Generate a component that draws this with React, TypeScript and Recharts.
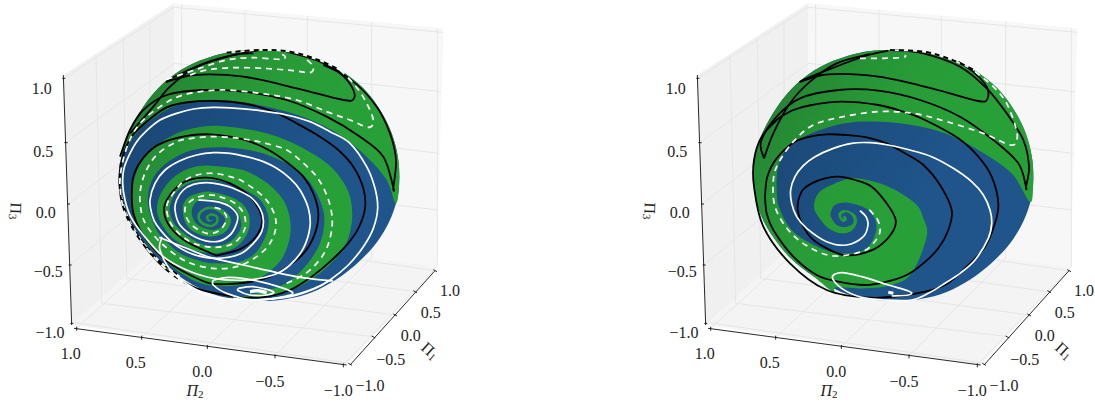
import { ScatterChart, Scatter, XAxis, YAxis } from "recharts"

type Pt = [number, number]

// All values below are picture units: 3 units = 1 screen pixel inside a panel.
const PANEL_W = 465
const PANEL_H = 402

const leftPane: Pt[] = [[190, 225], [522, 10], [525, 695], [215, 975]]
const backPane: Pt[] = [[522, 10], [1330, 85], [1310, 800], [525, 695]]
const floorPane: Pt[] = [[215, 975], [525, 695], [1310, 800], [1040, 1095]]

const gridLines: Pt[][] = [
  // left wall verticals
  [[288, 165], [305, 910]], [[370, 115], [380, 835]], [[450, 65], [450, 765]],
  [[545, 12], [545, 700]],
  // back wall verticals
  [[735, 30], [735, 725]], [[922, 48], [922, 748]], [[1115, 65], [1115, 773]], [[1312, 85], [1312, 800]],
  // wall horizontals
  [[192, 235], [522, 22], [1328, 97]],
  [[197, 428], [523, 190], [1322, 275]],
  [[205, 612], [524, 365], [1318, 460]],
  [[210, 795], [525, 535], [1314, 630]],
  // floor
  [[230, 985], [545, 700]], [[425, 1012], [735, 725]], [[622, 1040], [922, 748]],
  [[825, 1068], [1115, 773]], [[1030, 1095], [1312, 800]],
  [[1050, 1090], [225, 968]], [[1120, 1010], [305, 910]], [[1185, 945], [380, 835]],
  [[1245, 875], [450, 765]], [[1305, 812], [525, 700]],
]

const axisLines: Pt[][] = [
  [[190, 225], [215, 975]],
  [[222, 985], [1040, 1095]],
  [[1050, 1095], [1305, 812]],
]
const axisTicks: Pt[][] = [
  [[187, 235], [196, 235]], [[193, 428], [203, 428]], [[201, 612], [210, 612]],
  [[206, 795], [215, 795]], [[211, 970], [220, 970]],
  [[230, 980], [230, 992]], [[425, 1007], [425, 1019]], [[622, 1035], [622, 1047]],
  [[825, 1063], [825, 1075]], [[1030, 1090], [1030, 1102]],
  [[1045, 1090], [1056, 1096]], [[1115, 1008], [1126, 1014]], [[1180, 942], [1191, 948]],
  [[1240, 872], [1251, 878]], [[1300, 809], [1311, 815]],
]

const tickLabels: [number, number, string][] = [
  [125, 265, "1.0"], [130, 455, "0.5"], [137, 637, "0.0"], [145, 815, "\u22120.5"], [150, 997, "\u22121.0"],
  [212, 1060, "1.0"], [407, 1088, "0.5"], [607, 1115, "0.0"], [810, 1145, "\u22120.5"], [1015, 1170, "\u22121.0"],
  [1350, 872, "1.0"], [1292, 938, "0.5"], [1232, 1007, "0.0"], [1172, 1078, "\u22120.5"], [1110, 1157, "\u22121.0"],
]
const axisTitles: [number, number, string, string, number, boolean][] = [
  [585, 1172, "\u03a0", "2", 0, true],
  [48, 633, "\u03a0", "3", 92, false],
  [1290, 1052, "\u03a0", "1", 42, false],
]

const sphereOutline: Pt[] = [
  [780, 150], [870, 155], [950, 178], [1020, 210], [1090, 265], [1140, 330], [1175, 400], [1195, 480],
  [1197, 560], [1185, 620], [1160, 680], [1120, 740], [1060, 800], [990, 850], [920, 883], [840, 900],
  [780, 903], [700, 897], [620, 875], [540, 830], [470, 775], [410, 700], [375, 630], [360, 560],
  [362, 480], [385, 400], [430, 320], [490, 250], [560, 200], [640, 168], [710, 153],
]

// ---- left sphere ----
const capL: Pt[] = [
  [368, 470], [385, 400], [430, 320], [490, 250], [560, 200], [640, 168], [710, 153], [780, 150],
  [870, 155], [950, 178], [1020, 210], [1090, 265], [1140, 330], [1175, 400], [1195, 480], [1197, 560],
  [1187, 610], [1160, 540], [1100, 470], [1020, 405], [920, 355], [820, 325], [720, 305], [620, 300],
  [520, 320], [440, 370], [395, 420],
]
const bandOuterL: Pt[] = [
  [720, 893], [800, 888], [880, 868], [965, 815], [1030, 745], [1055, 670], [1050, 590], [1015, 525],
  [960, 475], [870, 425], [780, 395], [660, 378], [580, 385], [510, 410], [440, 465], [405, 530],
  [395, 610], [430, 710], [470, 760], [530, 810], [590, 845], [650, 858], [720, 855], [780, 835],
  [835, 790], [862, 740], [872, 680], [860, 620], [830, 575], [780, 535], [720, 508], [630, 497],
  [575, 503], [530, 525], [495, 560], [475, 600], [472, 640], [490, 680], [525, 720], [580, 750],
  [640, 760], [695, 748], [730, 720], [748, 680], [745, 640], [725, 610], [690, 590], [630, 575],
  [585, 583], [557, 600], [548, 630], [560, 675], [590, 700], [630, 710], [670, 700], [690, 675],
  [690, 650], [665, 627], [625, 620], [600, 632], [592, 652], [603, 672], [630, 682], [652, 672],
  [655, 650], [635, 640], [618, 650], [625, 665], [640, 660],
]
const bandInnerL: Pt[] = [
  [800, 872], [860, 848], [915, 800], [960, 730], [973, 650], [950, 580], [915, 530], [860, 490],
  [770, 455], [660, 442], [570, 452], [505, 485], [465, 525], [447, 570], [445, 620], [470, 690],
  [500, 725], [540, 760], [590, 780], [640, 790], [720, 785], [770, 755], [800, 700], [805, 650],
  [785, 605], [745, 575], [680, 548], [625, 540], [570, 548], [530, 575], [512, 610], [510, 640],
  [530, 680], [590, 725], [640, 738], [690, 725], [720, 690], [722, 660], [705, 625], [670, 605],
  [625, 597], [590, 605], [575, 635], [590, 672], [635, 690], [665, 680], [675, 655], [650, 632],
  [625, 628], [607, 637], [600, 652], [610, 667], [632, 674], [646, 667], [648, 652], [635, 647],
  [625, 652], [630, 660],
]

const blackL: Pt[][] = [
  [[970, 195], [1020, 220], [1055, 260], [1062, 295], [1030, 300], [890, 265], [730, 230], [580, 225], [500, 245], [590, 200], [700, 165], [780, 150]],
  [[390, 400], [460, 320], [510, 260], [590, 200], [700, 165], [760, 160]],
  [[360, 470], [390, 390], [430, 330], [500, 285], [610, 270], [730, 275], [860, 300], [980, 350], [1080, 410], [1150, 470], [1180, 562], [1180, 562], [1188, 480], [1170, 400], [1130, 320], [1060, 245], [960, 185], [860, 155]],
  [[720, 893], [800, 890], [870, 870], [935, 830], [990, 785], [1040, 735], [1075, 685], [1095, 625], [1090, 565], [1060, 500], [1015, 450], [960, 410], [890, 370], [820, 335], [740, 312], [650, 303], [570, 306], [500, 322], [440, 365], [395, 410], [368, 470], [358, 545], [372, 630], [420, 720], [500, 810], [590, 865], [720, 893]],
  [[395, 590], [400, 530], [425, 480], [465, 440], [515, 418], [570, 406], [630, 403], [690, 410], [750, 425], [810, 452], [865, 490], [910, 530], [940, 580], [955, 640], [945, 700], [915, 755], [870, 795], [810, 830], [750, 846], [690, 852], [630, 850], [570, 825], [510, 790], [460, 745], [420, 690], [400, 640], [395, 590]],
  [[650, 767], [725, 745], [775, 700], [785, 650], [750, 590], [690, 550], [620, 533], [555, 545], [510, 585], [492, 630], [510, 680], [560, 725], [650, 767]],
]
const dashedL: Pt[][] = [
  [[1020, 210], [1060, 250], [1095, 300], [1120, 360], [1105, 382], [1050, 360], [980, 335], [890, 300], [780, 280], [660, 270], [550, 285], [480, 320], [420, 370], [385, 430], [365, 500], [360, 560], [375, 640], [420, 720], [500, 810], [580, 870]],
  [[860, 850], [910, 825], [950, 790], [980, 745], [995, 690], [995, 640], [980, 585], [950, 530], [905, 485], [860, 450], [805, 432], [750, 420], [690, 412], [630, 410], [575, 415], [530, 425], [470, 465], [435, 520], [420, 580], [425, 640], [445, 685], [490, 735], [560, 785], [640, 805], [710, 800], [770, 770], [810, 730], [828, 680], [820, 635], [790, 590], [730, 545], [690, 530], [640, 520], [590, 525], [550, 545], [520, 580], [500, 620], [515, 675], [570, 725], [640, 742], [700, 730], [733, 690], [733, 645], [705, 610], [665, 592], [630, 585], [585, 595], [555, 625], [570, 670], [620, 700], [660, 690], [680, 655], [665, 630], [640, 622]],
  [[570, 225], [620, 210], [700, 203], [790, 205], [880, 212], [930, 218], [940, 200], [920, 178]],
  [[500, 238], [590, 208], [680, 180], [760, 173], [840, 178], [856, 170], [840, 160]],
]
const whiteL: Pt[][] = [
  [[700, 895], [760, 900], [870, 890], [940, 868], [990, 840], [1045, 795], [1090, 740], [1120, 685], [1133, 625], [1125, 565], [1100, 500], [1050, 430], [990, 395], [930, 365], [860, 345], [780, 332], [710, 325], [640, 322], [580, 327], [530, 340], [480, 360], [440, 392], [410, 425], [390, 460], [372, 505], [368, 550], [375, 600], [392, 650], [430, 705], [490, 770], [560, 810], [640, 835], [740, 840], [820, 825], [870, 795], [910, 745], [930, 680], [925, 625], [900, 570], [870, 535], [830, 505], [790, 485], [740, 470], [690, 460], [640, 458], [590, 465], [540, 482], [495, 510], [465, 550], [450, 600], [455, 640], [470, 675], [520, 730], [580, 763], [650, 775], [720, 762], [760, 730], [785, 695], [790, 660], [780, 625], [750, 590], [700, 565], [660, 553], [620, 548], [580, 553], [550, 570], [530, 600], [525, 630], [540, 675], [590, 713], [650, 725], [690, 705], [710, 670], [712, 645], [690, 620], [660, 607], [625, 602], [595, 600]],
  [[485, 715], [485, 715], [560, 745], [630, 772], [730, 795], [890, 830], [988, 842], [988, 842], [950, 862], [870, 888], [760, 900], [670, 895], [610, 880], [520, 820], [480, 750], [485, 715], [485, 715]],
  [[640, 840], [690, 832], [780, 845], [875, 875], [850, 890], [760, 900], [680, 880], [640, 855], [640, 840]],
  [[715, 865], [760, 860], [820, 875], [800, 885], [750, 885], [715, 872], [715, 865]],
]
const blobL: Pt[] = [[750, 875], [775, 872], [800, 878]]
const limbDashL: Pt[] = [[362, 490], [360, 560], [375, 630], [410, 700], [470, 775], [540, 830]]
const limbTopL: Pt[] = [[680, 158], [780, 150], [870, 155], [950, 178], [1020, 210]]

// ---- right sphere ----
const capR: Pt[] = [
  [1199, 605], [1209, 560], [1207, 480], [1187, 400], [1152, 330], [1102, 265], [1032, 210], [962, 178],
  [882, 155], [792, 150], [722, 153], [652, 168], [572, 200], [502, 250], [442, 320], [397, 400],
  [374, 480], [372, 560], [387, 630], [422, 700], [482, 775], [552, 830], [612, 878],
  [618, 862], [705, 865], [785, 855], [845, 820], [890, 710], [880, 655], [855, 610], [775, 560], [675, 535],
  [605, 555], [565, 580], [552, 620], [565, 650], [590, 680], [615, 695], [640, 700], [665, 692], [680, 670],
  [678, 648], [662, 635], [640, 630], [626, 640], [628, 655], [640, 666], [650, 660], [648, 650], [640, 648],
  [640, 656], [634, 650], [636, 642], [650, 637], [668, 650], [668, 672], [645, 681], [620, 675], [605, 655],
  [602, 640], [615, 615], [655, 608], [715, 630], [740, 680], [715, 740], [660, 760], [585, 750],
  [495, 700], [450, 630], [440, 570], [445, 500], [475, 440], [545, 400], [645, 370], [745, 365],
  [845, 375], [945, 400], [1045, 450], [1145, 520],
]
const blackR: Pt[][] = [
  [[985, 185], [1035, 220], [1070, 260], [1073, 295], [1045, 303], [905, 265], [745, 230], [595, 223], [510, 245], [605, 205], [715, 165], [775, 152]],
  [[402, 475], [430, 400], [480, 310], [540, 245], [620, 190], [720, 162]],
  [[402, 475], [393, 425], [440, 350], [510, 295], [625, 270], [745, 272], [870, 300], [990, 350], [1090, 420], [1165, 490], [1188, 560], [1188, 560], [1197, 500], [1180, 420], [1130, 340], [1070, 265], [990, 200], [880, 160], [790, 150]],
  [[445, 355], [490, 330], [545, 315], [635, 305], [745, 315], [820, 335], [885, 360], [985, 415], [1045, 470], [1085, 530], [1105, 610], [1095, 670], [1065, 740], [1010, 800], [945, 855], [850, 882], [720, 893], [590, 870], [480, 790], [400, 680], [372, 560], [372, 480], [395, 410], [445, 355]],
  [[405, 590], [412, 530], [440, 475], [490, 428], [540, 410], [590, 403], [650, 405], [710, 412], [770, 430], [825, 460], [880, 495], [930, 555], [965, 630], [955, 690], [925, 745], [880, 790], [830, 825], [770, 845], [705, 855], [625, 845], [560, 825], [490, 770], [430, 690], [410, 640], [405, 590]],
  [[505, 600], [518, 570], [545, 550], [585, 535], [625, 530], [675, 540], [725, 560], [770, 610], [797, 660], [785, 700], [745, 740], [690, 762], [640, 765], [590, 745], [545, 715], [515, 670], [503, 630], [505, 600]],
]
const dashedR: Pt[][] = [
  [[1035, 215], [1090, 260], [1130, 310], [1158, 385], [1160, 420], [1140, 435], [1060, 400], [950, 365], [850, 340], [745, 335], [640, 350], [550, 375], [490, 425], [445, 490], [430, 540], [435, 620], [475, 690], [535, 740], [610, 768], [695, 755], [730, 730], [750, 695], [743, 660], [717, 628]],
  [[690, 175], [760, 175], [820, 172], [826, 165]],
]
const whiteR: Pt[][] = [
  [[690, 632], [708, 650], [714, 675], [700, 710], [650, 735], [590, 725], [530, 685], [500, 650], [485, 610], [482, 570], [495, 530], [520, 497], [555, 470], [610, 445], [665, 430], [720, 428], [775, 435], [840, 450], [905, 470], [970, 505], [1025, 545], [1060, 585], [1080, 630], [1085, 670], [1075, 715], [1035, 780], [990, 820], [945, 850], [895, 880], [845, 900], [765, 900], [695, 892], [635, 865], [607, 832], [635, 818], [695, 830], [775, 855], [840, 875], [835, 885], [785, 888]],
]
const blobR: Pt[] = [[775, 877], [790, 880]]
const limbTopR: Pt[] = [[780, 150], [882, 155], [962, 178], [1032, 210]]

const shift = (pts: Pt[], dx: number): Pt[] => pts.map(([x, y]) => [x + dx, y])

// catmull-rom through the read points, so the curves stay round
const curvePath = (pts: { x: number; y: number }[], closed: boolean, smooth: boolean) => {
  if (!pts || pts.length === 0) return ""
  let d = `M${pts[0].x},${pts[0].y}`
  const n = pts.length
  const at = (i: number) => (closed ? pts[(i + n) % n] : pts[Math.max(0, Math.min(n - 1, i))])
  const last = closed ? n : n - 1
  for (let i = 0; i < last; i++) {
    const p0 = at(i - 1), p1 = at(i), p2 = at(i + 1), p3 = at(i + 2)
    if (!smooth) {
      d += `L${p2.x},${p2.y}`
      continue
    }
    d += `C${p1.x + (p2.x - p0.x) / 6},${p1.y + (p2.y - p0.y) / 6} ${p2.x - (p3.x - p1.x) / 6},${p2.y - (p3.y - p1.y) / 6} ${p2.x},${p2.y}`
  }
  return closed ? d + "Z" : d
}

type MarkStyle = { stroke?: string; fill?: string; width?: number; dash?: string; closed?: boolean; smooth?: boolean }

const mark = (key: string, data: Pt[], s: MarkStyle) => (
  <Scatter
    key={key}
    data={data.map(([x, y]) => ({ x, y }))}
    isAnimationActive={false}
    shape={() => <g />}
    line={(p: any) => (
      <path
        key={key}
        d={curvePath(p.points, !!s.closed, s.smooth !== false)}
        fill={s.fill ?? "none"}
        stroke={s.stroke ?? "none"}
        strokeWidth={s.width ?? 2}
        strokeDasharray={s.dash}
        strokeLinejoin="round"
      />
    )}
  />
)

const SERIF = "Liberation Serif, serif"

const TickText = (p: any) => (
  <text x={p.cx} y={p.cy} textAnchor="middle" dominantBaseline="central" fontSize={16} fontFamily={SERIF} fill="#222">
    {p.payload.text}
  </text>
)

const TitleText = (p: any) => (
  <text
    x={p.cx}
    y={p.cy}
    textAnchor="middle"
    dominantBaseline="central"
    fontSize={16}
    fontFamily={SERIF}
    fontStyle={p.payload.italic ? "italic" : "normal"}
    fill="#222"
    transform={`rotate(${p.payload.rot} ${p.cx} ${p.cy})`}
  >
    {p.payload.pi}
    <tspan fontSize={11} dy={3} fontStyle="normal">{p.payload.sub}</tspan>
  </text>
)

const Panel = ({ left, tag, dx, children }: { left: number; tag: string; dx: number; children: any }) => (
  <div style={{ position: "absolute", left, top: 0 }}>
    <ScatterChart width={PANEL_W} height={PANEL_H} margin={{ top: 0, right: 0, bottom: 0, left: 0 }}>
      <defs>
        <linearGradient id={`green${tag}`} gradientUnits="userSpaceOnUse" x1={125} y1={70} x2={300} y2={190}>
          <stop offset="0" stopColor="#23752e" />
          <stop offset="0.25" stopColor="#258a34" />
          <stop offset="0.6" stopColor="#279b37" />
          <stop offset="1" stopColor="#28a038" />
        </linearGradient>
        <linearGradient id={`blue${tag}`} gradientUnits="userSpaceOnUse" x1={115} y1={120} x2={280} y2={220}>
          <stop offset="0" stopColor="#1a4674" />
          <stop offset="1" stopColor="#1f558b" />
        </linearGradient>
      </defs>
      <XAxis type="number" dataKey="x" domain={[0, PANEL_W * 3]} hide />
      <YAxis type="number" dataKey="y" domain={[0, PANEL_H * 3]} reversed hide />
      {mark("pl", shift(leftPane, dx), { fill: "#f0f0f0", closed: true, smooth: false })}
      {mark("pb", shift(backPane, dx), { fill: "#f7f7f7", closed: true, smooth: false })}
      {mark("pf", shift(floorPane, dx), { fill: "#f4f4f4", closed: true, smooth: false })}
      {gridLines.map((g, i) => mark(`g${i}`, shift(g, dx), { stroke: "#e6e6e6", width: 1, smooth: false }))}
      {mark("sphere", shift(sphereOutline, dx), { fill: `url(#blue${tag})`, closed: true })}
      {children}
      {axisLines.map((g, i) => mark(`a${i}`, shift(g, dx), { stroke: "#111", width: 0.9, smooth: false }))}
      {axisTicks.map((g, i) => mark(`t${i}`, shift(g, dx), { stroke: "#111", width: 0.9, smooth: false }))}
      <Scatter
        data={tickLabels.map(([x, y, text]) => ({ x: x + dx, y, text }))}
        isAnimationActive={false}
        shape={TickText}
      />
      <Scatter
        data={axisTitles.map(([x, y, pi, sub, rot, italic]) => ({ x: x + dx, y, pi, sub, rot, italic }))}
        isAnimationActive={false}
        shape={TitleText}
      />
    </ScatterChart>
  </div>
)

const green = (tag: string) => `url(#green${tag})`

export default function App() {
  return (
    <div style={{ position: "relative", width: 1095, height: 402 }}>
      <style>{"body{margin:0;background:#fff}"}</style>
      <Panel left={0} tag="L" dx={0}>
        {mark("capL", capL, { fill: green("L"), closed: true })}
        {mark("bandL", [...bandOuterL, ...[...bandInnerL].reverse()], { fill: green("L"), closed: true })}
        {mark("limbW", limbDashL, { stroke: "#fff", width: 1.5 })}
        {blackL.map((c, i) => mark(`kL${i}`, c, { stroke: "#000", width: 1.8 }))}
        {mark("limbK", limbDashL, { stroke: "#000", width: 2, dash: "5 4" })}
        {mark("limbTW", limbTopL, { stroke: "#fff", width: 1.5 })}
        {mark("limbTK", limbTopL, { stroke: "#000", width: 2, dash: "5 4" })}
        {dashedL.map((c, i) => mark(`dL${i}`, c, { stroke: "#fff", width: 1.7, dash: "6 5" }))}
        {whiteL.map((c, i) => mark(`wL${i}`, c, { stroke: "#fff", width: 1.7 }))}
        {mark("blobL", blobL, { stroke: "#fff", width: 3.5 })}
      </Panel>
      <Panel left={630} tag="R" dx={12}>
        {mark("capR", capR, { fill: green("R"), closed: true })}
        {blackR.map((c, i) => mark(`kR${i}`, c, { stroke: "#000", width: 1.8 }))}
        {mark("limbTWR", limbTopR, { stroke: "#fff", width: 1.5 })}
        {mark("limbTKR", limbTopR, { stroke: "#000", width: 2, dash: "5 4" })}
        {dashedR.map((c, i) => mark(`dR${i}`, c, { stroke: "#fff", width: 1.7, dash: "6 5" }))}
        {whiteR.map((c, i) => mark(`wR${i}`, c, { stroke: "#fff", width: 1.7 }))}
        {mark("blobR", blobR, { stroke: "#fff", width: 3 })}
      </Panel>
    </div>
  )
}
